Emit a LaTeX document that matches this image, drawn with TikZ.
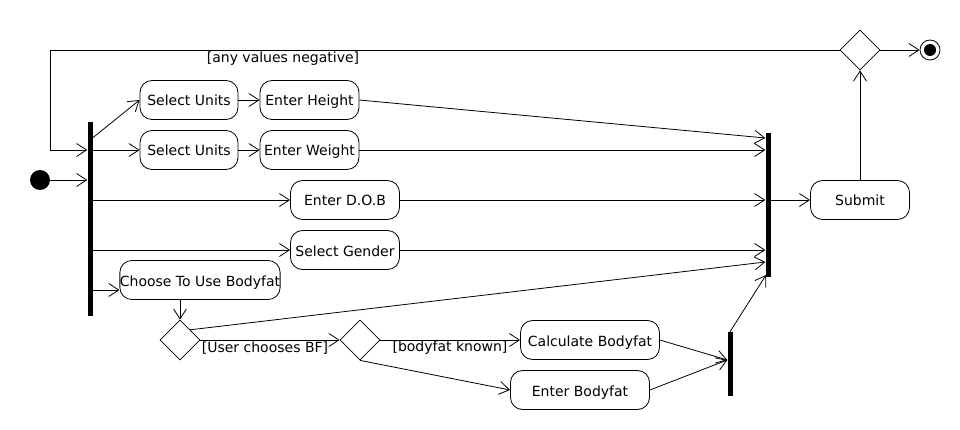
\documentclass[tikz,border=0pt]{standalone}
\usepackage{fontspec}
\setmainfont{DejaVu Sans}
\usetikzlibrary{shapes.geometric,arrows.meta,calc}
\begin{document}
\begin{tikzpicture}[x=1pt,y=-1pt,
 act/.style={draw,rounded corners=12pt,minimum height=39pt,inner sep=0pt,text height=12pt,text depth=0pt,font=\fontsize{14}{16}\selectfont,line width=0.8pt},
 bar/.style={fill=black,draw=none,minimum width=5pt,inner sep=0pt},
 dec/.style={draw,diamond,minimum width=40pt,minimum height=40pt,inner sep=0pt,line width=0.8pt},
 flow/.style={line width=0.8pt,-{Straight Barb[length=10pt,width=13pt]}},
 lab/.style={font=\fontsize{14}{16}\selectfont,inner sep=0pt}]
\useasboundingbox (0,0) rectangle (960,430);
% nodes
\node[circle,fill=black,minimum size=20pt,inner sep=0pt] (init) at (40,180) {};
\node[bar,minimum height=194pt] (f1) at (90,219) {};
\node[act,minimum width=98pt] (su1) at (189,100) {Select Units};
\node[act,minimum width=99pt] (eh) at (309.5,100) {Enter Height};
\node[act,minimum width=98pt] (su2) at (189,150) {Select Units};
\node[act,minimum width=99pt] (ew) at (309.5,150) {Enter Weight};
\node[act,minimum width=109pt] (dob) at (345,200) {Enter D.O.B};
\node[act,minimum width=109pt] (gen) at (345,250) {Select Gender};
\node[act,minimum width=160pt] (cb) at (200,280) {Choose To Use Bodyfat};
\node[dec] (d1) at (180,340) {};
\node[dec] (d2) at (360,340) {};
\node[act,minimum width=139pt] (calc) at (590,340) {Calculate Bodyfat};
\node[act,minimum width=139pt] (ebf) at (580,390) {Enter Bodyfat};
\node[bar,minimum height=64pt] (j2) at (730,364) {};
\node[bar,minimum height=144pt] (j1) at (768,205) {};
\node[act,minimum width=99pt] (sub) at (860,200) {Submit};
\node[dec] (d3) at (860,50) {};
\node[circle,draw,fill=white,minimum size=20pt,inner sep=0pt,line width=0.8pt] (fin) at (930,50) {};
\fill (fin) circle (6pt);
% coordinates
\coordinate (lp1) at (50,50);
\coordinate (lp2) at (50,150);
\coordinate (f1a) at (92.5,138);
\coordinate (cbin) at (90,290);
\coordinate (j1h) at (768,138);
\coordinate (j1d) at (768,262);
\coordinate (j1b) at (766,275);
\coordinate (j2m) at (730,360);
% connectors
\draw[flow] (init) -- (f1.west |- init);
\draw[flow] (d3.west) -- (lp1) -- (lp2) -- (f1.west |- lp2);
\node[lab,anchor=north] at (283,52) {[any values negative]};
\draw[flow] (f1a) -- (su1.west);
\draw[flow] (f1.east |- su2) -- (su2);
\draw[flow] (su1) -- (eh);
\draw[flow] (su2) -- (ew);
\draw[flow] (f1.east |- dob) -- (dob);
\draw[flow] (f1.east |- gen) -- (gen);
\draw[flow] (f1.east |- cbin) -- (cb.west |- cbin);
\draw[flow] (cb.south -| d1) -- (d1.north);
\draw[flow] (d1.east) -- (d2.west);
\node[lab,anchor=north] at (265,342) {[User chooses BF]};
\draw[flow] (d1.north east) -- (j1.west |- j1d);
\draw[flow] (d2.east) -- (calc.west);
\node[lab,anchor=north] at (450,341) {[bodyfat known]};
\draw[flow] (d2.south) -- (ebf.west);
\draw[flow] (calc.east) -- (j2.west |- j2m);
\draw[flow] (ebf.east) -- (j2.west |- j2m);
\draw[flow] (j2.north) -- (j1b);
\draw[flow] (eh.east) -- (j1.west |- j1h);
\draw[flow] (ew) -- (j1.west |- ew);
\draw[flow] (dob) -- (j1.west |- dob);
\draw[flow] (gen) -- (j1.west |- gen);
\draw[flow] (j1.east |- sub) -- (sub);
\draw[flow] (sub.north) -- (d3.south);
\draw[flow] (d3.east) -- (fin);
\end{tikzpicture}
\end{document}
